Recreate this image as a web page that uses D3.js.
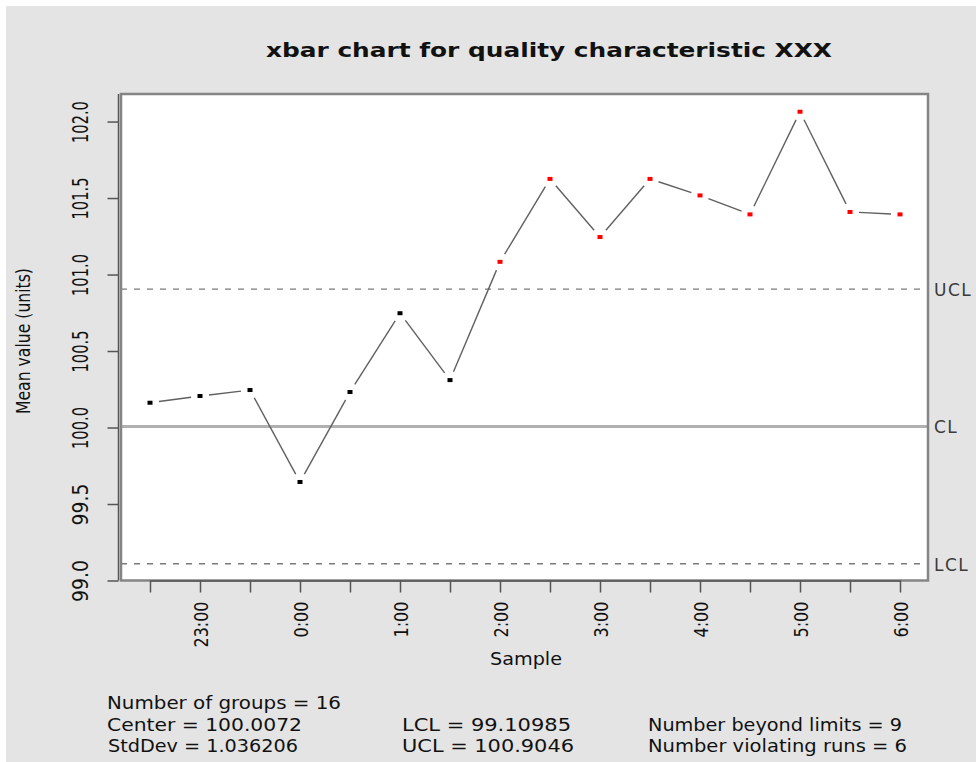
<!DOCTYPE html>
<html>
<head>
<meta charset="utf-8">
<script src="https://cdn.jsdelivr.net/npm/d3@7"></script>
<style>
  html, body { margin: 0; padding: 0; background: #ffffff; }
  svg { display: block; }
  text { font-family: "DejaVu Sans Condensed", "Liberation Sans Narrow", "DejaVu Sans", sans-serif; fill: #111; }
</style>
</head>
<body>
<svg id="chart" width="976" height="762"></svg>
<script>
// Sample time stamps, one per subgroup
const sampleLabels = ["22:30", "23:00", "23:30", "0:00", "0:30", "1:00", "1:30", "2:00",
                      "2:30", "3:00", "3:30", "4:00", "4:30", "5:00", "5:30", "6:00"];
// Subgroup means (units)
const groupMeans = [100.162, 100.206, 100.245, 99.644, 100.232, 100.747, 100.310, 101.083,
                    101.625, 101.245, 101.625, 101.517, 101.393, 102.064, 101.409, 101.393];
// Control limits and summary statistics
const centerLine = [100.0072];
const lowerLimit = [99.10985];
const upperLimit = [100.9046];
const stdDev = [1.036206];
const violatingRuns = [6];
// Y tick values
const yTickValues = [99.0, 99.5, 100.0, 100.5, 101.0, 101.5, 102.0];

const W = 976, H = 762;
const svg = d3.select("#chart");

// Page background (thin white strip on top/left, grey canvas)
svg.append("rect").attr("x", 0).attr("y", 0).attr("width", W).attr("height", H).attr("fill", "#ffffff");
svg.append("rect").attr("x", 6).attr("y", 6).attr("width", W - 6).attr("height", H - 6).attr("fill", "#e4e4e4");

const plot = { left: 121, right: 928, top: 94, bottom: 580.5 };

const x = d3.scaleLinear().domain([1, groupMeans.length]).range([150, 900]);
const y = d3.scaleLinear().domain([99, 102.18]).range([plot.bottom, plot.top]);

// Plot region
svg.append("rect")
  .attr("x", plot.left).attr("y", plot.top)
  .attr("width", plot.right - plot.left).attr("height", plot.bottom - plot.top)
  .attr("fill", "#ffffff");

// Title
svg.append("text")
  .attr("x", 266).attr("y", 57)
  .attr("textLength", 566).attr("lengthAdjust", "spacingAndGlyphs")
  .style("font-family", "'DejaVu Sans', sans-serif")
  .style("font-weight", "bold").style("font-size", "20px")
  .text("xbar chart for quality characteristic XXX");

// Control limit lines
const limits = [
  { v: upperLimit[0], name: "UCL", dash: "6,7", color: "#7a7a7a", w: 1.4 },
  { v: centerLine[0], name: "CL", dash: null, color: "#b0b0b0", w: 3 },
  { v: lowerLimit[0], name: "LCL", dash: "6,7", color: "#7a7a7a", w: 1.4 }
];
svg.selectAll("line.limit").data(limits).join("line")
  .attr("class", "limit")
  .attr("x1", plot.left).attr("x2", plot.right)
  .attr("y1", d => y(d.v)).attr("y2", d => y(d.v))
  .attr("stroke", d => d.color).attr("stroke-width", d => d.w)
  .attr("stroke-dasharray", d => d.dash);

svg.selectAll("text.limit").data(limits).join("text")
  .attr("class", "limit")
  .attr("x", 934).attr("y", d => y(d.v) + 7)
  .style("font-family", "'DejaVu Sans', sans-serif")
  .style("font-size", "17px").style("letter-spacing", "1.5px")
  .style("fill", "#3a3a3a")
  .text(d => d.name);

// Connecting segments, trimmed so they stop short of the points
const pts = groupMeans.map((v, i) => ({ i: i + 1, v, px: x(i + 1), py: y(v) }));
const gap = 9;
const segs = d3.pairs(pts).map(([a, b]) => {
  const dx = b.px - a.px, dy = b.py - a.py, len = Math.hypot(dx, dy);
  const ux = dx / len, uy = dy / len;
  return { x1: a.px + ux * gap, y1: a.py + uy * gap, x2: b.px - ux * gap, y2: b.py - uy * gap };
});
svg.selectAll("line.seg").data(segs).join("line")
  .attr("class", "seg")
  .attr("x1", d => d.x1).attr("y1", d => d.y1)
  .attr("x2", d => d.x2).attr("y2", d => d.y2)
  .attr("stroke", "#606060").attr("stroke-width", 1.4);

// Points: red when outside the control limits
const outside = v => v > upperLimit[0] || v < lowerLimit[0];
svg.selectAll("rect.pt").data(pts).join("rect")
  .attr("class", "pt")
  .attr("x", d => d.px - 2.5).attr("y", d => d.py - 2)
  .attr("width", 5).attr("height", 4)
  .attr("fill", d => outside(d.v) ? "#ff0000" : "#000000");

// Plot frame
svg.append("rect")
  .attr("x", plot.left).attr("y", plot.top)
  .attr("width", plot.right - plot.left).attr("height", plot.bottom - plot.top)
  .attr("fill", "none").attr("stroke", "#858585").attr("stroke-width", 2.5);

// Y axis
const yAxis = d3.axisLeft(d3.scaleLinear().domain([99, 102]).range([y(99), y(102)]))
  .tickValues(yTickValues).tickFormat(d3.format(".1f")).tickSize(11).tickSizeOuter(0).tickPadding(0);
const gy = svg.append("g").attr("transform", "translate(118.5,0)").call(yAxis);
gy.select(".domain").remove();
gy.append("line").attr("x1", 0).attr("x2", 0).attr("y1", y(99)).attr("y2", plot.top)
  .attr("stroke", "#555").attr("stroke-width", 1.5);
gy.selectAll(".tick line").attr("stroke", "#555").attr("stroke-width", 1.5);
gy.selectAll(".tick text")
  .attr("x", null).attr("dy", null)
  .attr("transform", "translate(-30.5,0) rotate(-90)")
  .attr("text-anchor", "middle")
  .attr("textLength", 42).attr("lengthAdjust", "spacingAndGlyphs")
  .style("font-size", "21px").style("fill", "#111");

// Y axis title
svg.append("text")
  .attr("transform", `translate(30,${(y(99) + y(102)) / 2 - 10}) rotate(-90)`)
  .attr("text-anchor", "middle")
  .attr("textLength", 146).attr("lengthAdjust", "spacingAndGlyphs")
  .style("font-size", "19px")
  .text("Mean value (units)");

// X axis
const xAxis = d3.axisBottom(x)
  .tickValues(d3.range(1, groupMeans.length + 1))
  .tickFormat(d => (d % 2 === 0 ? sampleLabels[d - 1] : ""))
  .tickSize(12).tickSizeOuter(0);
const gx = svg.append("g").attr("transform", `translate(0,${plot.bottom})`).call(xAxis);
gx.select(".domain").attr("stroke", "#555").attr("stroke-width", 1.5);
gx.selectAll(".tick line").attr("stroke", "#555").attr("stroke-width", 1.5);
gx.selectAll(".tick text")
  .attr("y", null).attr("dy", null)
  .attr("transform", "translate(7,21) rotate(-90)")
  .attr("text-anchor", "end")
  .attr("textLength", d => (sampleLabels[d - 1].length === 5 ? 46 : 36))
  .attr("lengthAdjust", "spacingAndGlyphs")
  .style("font-size", "20px").style("fill", "#111");

// X axis title
svg.append("text")
  .attr("x", 490).attr("y", 665)
  .attr("textLength", 72).attr("lengthAdjust", "spacingAndGlyphs")
  .style("font-size", "18px")
  .text("Sample");

// Summary statistics
const beyond = groupMeans.filter(outside).length;
const stats = [
  { x: 107, y: 709, w: 234, t: `Number of groups = ${groupMeans.length}` },
  { x: 107, y: 731, w: 195, t: `Center = ${centerLine[0]}` },
  { x: 108, y: 752, w: 190, t: `StdDev = ${stdDev[0]}` },
  { x: 402, y: 731, w: 169, t: `LCL = ${lowerLimit[0]}` },
  { x: 402, y: 752, w: 172, t: `UCL = ${upperLimit[0]}` },
  { x: 648, y: 731, w: 254, t: `Number beyond limits = ${beyond}` },
  { x: 648, y: 752, w: 259, t: `Number violating runs = ${violatingRuns[0]}` }
];
svg.selectAll("text.stat").data(stats).join("text")
  .attr("class", "stat")
  .attr("x", d => d.x).attr("y", d => d.y)
  .attr("textLength", d => d.w).attr("lengthAdjust", "spacingAndGlyphs")
  .style("font-size", "17px")
  .text(d => d.t);
</script>
</body>
</html>
